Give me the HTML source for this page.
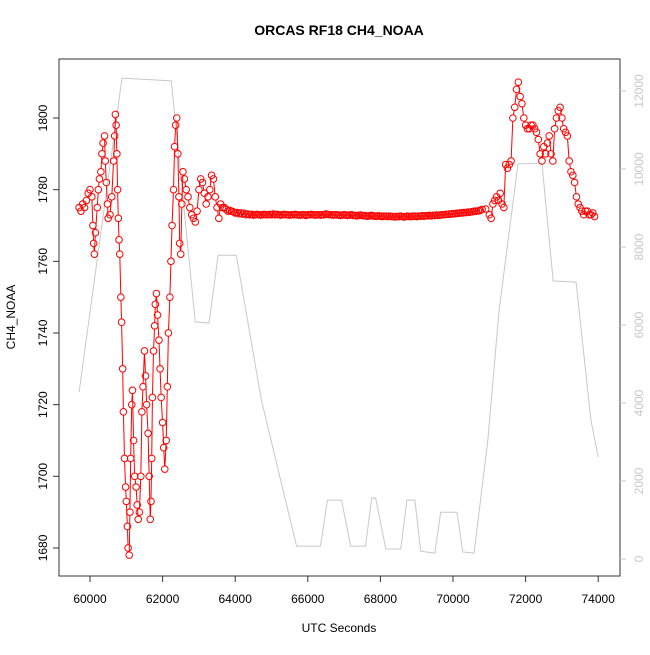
<!DOCTYPE html>
<html><head><meta charset="utf-8"><style>
body{margin:0;background:#fff;font-family:"Liberation Sans",sans-serif}
</style></head><body>
<svg id="chart" width="650" height="650" xmlns="http://www.w3.org/2000/svg" font-family="Liberation Sans, sans-serif">
<rect width="650" height="650" fill="#fff"/>
<text x="339" y="35" text-anchor="middle" font-weight="bold" font-size="14">ORCAS RF18 CH4_NOAA</text>
<text x="339" y="632" text-anchor="middle" font-size="12">UTC Seconds</text>
<text transform="translate(15,317) rotate(-90)" text-anchor="middle" font-size="12">CH4_NOAA</text>
<rect x="59" y="59" width="561" height="517" fill="none" stroke="#333" stroke-width="1"/>
<g id="alt"></g>
<g id="ch4"></g>
<g id="axes"></g>
</svg>
<script>
const ch4Times=[59700,59750,59800,59850,59900,59950,60000,60050,60080,60100,60120,60150,60200,60230,60260,60300,60330,60360,60400,60420,60450,60480,60500,60550,60600,60650,60680,60700,60720,60740,60760,60780,60800,60820,60850,60870,60900,60920,60950,60980,61000,61030,61050,61080,61100,61120,61150,61170,61200,61230,61270,61300,61330,61360,61400,61430,61460,61500,61530,61560,61600,61630,61660,61680,61700,61720,61750,61780,61800,61830,61860,61900,61930,61960,62000,62030,62060,62100,62130,62160,62200,62230,62260,62300,62330,62360,62390,62420,62450,62470,62500,62530,62560,62600,62650,62700,62750,62800,62850,62900,62950,63000,63050,63100,63150,63200,63250,63300,63350,63400,63450,63500,63550,63600,63650,63700,63750,63800,63850,63900,63950,
64000,64050,64100,64150,64200,64250,64300,64350,64400,64450,64500,64550,64600,64650,64700,64750,64800,64850,64900,64950,
65000,65050,65100,65150,65200,65250,65300,65350,65400,65450,65500,65550,65600,65650,65700,65750,65800,65850,65900,65950,
66000,66050,66100,66150,66200,66250,66300,66350,66400,66450,66500,66550,66600,66650,66700,66750,66800,66850,66900,66950,
67000,67050,67100,67150,67200,67250,67300,67350,67400,67450,67500,67550,67600,67650,67700,67750,67800,67850,67900,67950,
68000,68050,68100,68150,68200,68250,68300,68350,68400,68450,68500,68550,68600,68650,68700,68750,68800,68850,68900,68950,
69000,69050,69100,69150,69200,69250,69300,69350,69400,69450,69500,69550,69600,69650,69700,69750,69800,69850,69900,69950,
70000,70050,70100,70150,70200,70250,70300,70350,70400,70450,70500,70550,70600,70650,70700,70750,70800,
70900,71000,71050,71100,71150,71200,71250,71300,71350,71400,71450,71500,71550,71600,71650,71700,71750,71800,71850,71900,71950,72000,72050,72100,72150,72200,72250,72300,72350,72400,72450,72500,72550,72600,72650,72700,72750,72800,72850,72900,72950,73000,73050,73100,73150,73200,73250,73300,73350,73400,73450,73500,73550,73600,73650,73700,73750,73800,73850,73900];
const ch4Values=[1775,1774,1776,1775,1777,1779,1780,1778,1770,1765,1762,1768,1775,1780,1783,1785,1790,1793,1795,1788,1782,1776,1772,1773,1778,1788,1795,1801,1798,1790,1780,1772,1766,1762,1750,1743,1730,1718,1705,1697,1693,1686,1680,1678,1690,1705,1720,1724,1710,1700,1697,1692,1688,1690,1700,1718,1725,1735,1728,1720,1712,1700,1688,1693,1705,1722,1735,1742,1748,1751,1745,1738,1730,1722,1715,1708,1702,1710,1725,1740,1750,1760,1770,1780,1792,1798,1800,1790,1778,1765,1762,1776,1785,1783,1780,1778,1775,1773,1772,1771,1774,1780,1783,1782,1779,1776,1778,1780,1784,1783,1778,1775,1772,1776,1775,1775,1774.5,1774,1774.2,1774,1773.8,
1773.5,1773.6,1773.3,1773.5,1773.2,1773.4,1773,1773.2,1773,1773.1,1772.9,1773,1773.1,1773,1772.9,1773,1773.1,1773,1773,1773.1,
1773,1773.2,1773,1773.1,1773,1772.9,1773,1773.1,1773,1773,1772.9,1773,1773,1773.1,1773,1772.9,1772.9,1773,1773,1772.8,
1773,1773,1773.1,1773,1772.9,1773,1773,1772.9,1773,1773,1773.2,1773.1,1773,1773,1772.9,1773,1773,1772.9,1772.8,1772.9,
1773,1772.9,1772.8,1772.9,1773,1772.8,1772.8,1772.7,1772.8,1772.9,1772.8,1772.7,1772.7,1772.6,1772.7,1772.8,1772.7,1772.6,1772.6,1772.7,
1772.6,1772.5,1772.6,1772.6,1772.5,1772.6,1772.5,1772.5,1772.4,1772.5,1772.5,1772.6,1772.5,1772.4,1772.5,1772.6,1772.5,1772.5,1772.6,1772.6,
1772.5,1772.6,1772.6,1772.7,1772.6,1772.7,1772.7,1772.8,1772.7,1772.8,1772.8,1772.9,1772.8,1772.9,1773,1773,1773.1,1773.1,1773.2,1773.2,
1773.3,1773.3,1773.4,1773.4,1773.5,1773.5,1773.6,1773.6,1773.7,1773.7,1773.8,1773.9,1774,1774,1774.1,1774.2,1774.5,
1774.6,1773,1772,1776,1777,1778,1777,1779,1776,1775,1787,1786,1787,1788,1800,1803,1808,1810,1806,1804,1800,1798,1797,1797,1798,1798,1797,1796,1794,1790,1788,1792,1790,1793,1795,1790,1788,1797,1800,1802,1803,1800,1797,1796,1795,1788,1785,1784,1782,1778,1776,1775,1774,1773,1774,1774,1773,1773,1773.5,1772.5];
const altTimes=[59700,60880,62240,62900,63280,63530,64030,64720,65690,66350,66540,66930,67180,67590,67760,67870,68150,68560,68730,68950,69110,69500,69660,70110,70270,70580,70960,71270,71790,72450,72760,73390,73800,74000];
const altValues=[4280,12330,12260,6080,6050,7790,7790,4080,330,330,1510,1510,330,330,1560,1560,256,256,1510,1510,200,150,1200,1200,180,150,3050,6380,10130,10150,7130,7100,3560,2615];
const xTicks=[60000,62000,64000,66000,68000,70000,72000,74000];
const yTicks=[1680,1700,1720,1740,1760,1780,1800];
const altTicks=[0,2000,4000,6000,8000,10000,12000];

const NS="http://www.w3.org/2000/svg";
const X=t=>90+(t-60000)*0.0363;
const Y=v=>118+(1800-v)*3.583;
const A=a=>559-a*0.039;
const R=3.3;
function mk(tag,attrs,parent){const e=document.createElementNS(NS,tag);for(const k in attrs)e.setAttribute(k,attrs[k]);parent.appendChild(e);return e;}

const altG=document.getElementById('alt');
const altPath=mk('polyline',{points:altTimes.map((t,i)=>X(t)+','+A(altValues[i])).join(' '),fill:'none',stroke:'#c8c8c8','stroke-width':1},altG);



const g=document.getElementById('ch4');
let d='';
for(let i=1;i<ch4Times.length;i++){
  const x1=X(ch4Times[i-1]),y1=Y(ch4Values[i-1]),x2=X(ch4Times[i]),y2=Y(ch4Values[i]);
  const dx=x2-x1,dy=y2-y1,L=Math.hypot(dx,dy);
  if(L>2*R+0.5){const ux=dx/L,uy=dy/L;d+=`M${x1+ux*R},${y1+uy*R}L${x2-ux*R},${y2-uy*R}`;}
}
const ln=mk('path',{d:d,fill:'none',stroke:'#ff0000','stroke-width':1},g);


ch4Times.forEach((t,i)=>{
  const c=mk('circle',{cx:X(t),cy:Y(ch4Values[i]),r:R,fill:'none',stroke:'#ff0000','stroke-width':1},g);
  
  
});

const ax=document.getElementById('axes');
xTicks.forEach(t=>{
  mk('line',{x1:X(t),x2:X(t),y1:576,y2:582,stroke:'#333'},ax);
  const tx=mk('text',{x:X(t),y:603,'text-anchor':'middle','font-size':12},ax);
  tx.textContent=t;
  
  
});
yTicks.forEach(v=>{
  mk('line',{x1:53,x2:59,y1:Y(v),y2:Y(v),stroke:'#333'},ax);
  const tx=mk('text',{transform:`translate(47,${Y(v)}) rotate(-90)`,'text-anchor':'middle','font-size':12},ax);
  tx.textContent=v;
  
  
});
altTicks.forEach(a=>{
  mk('line',{x1:620,x2:626,y1:A(a),y2:A(a),stroke:'#c8c8c8'},ax);
  const tx=mk('text',{transform:`translate(643,${A(a)}) rotate(-90)`,'text-anchor':'middle','font-size':12,fill:'#c8c8c8'},ax);
  tx.textContent=a;
  
  
});
</script>
</body></html>
